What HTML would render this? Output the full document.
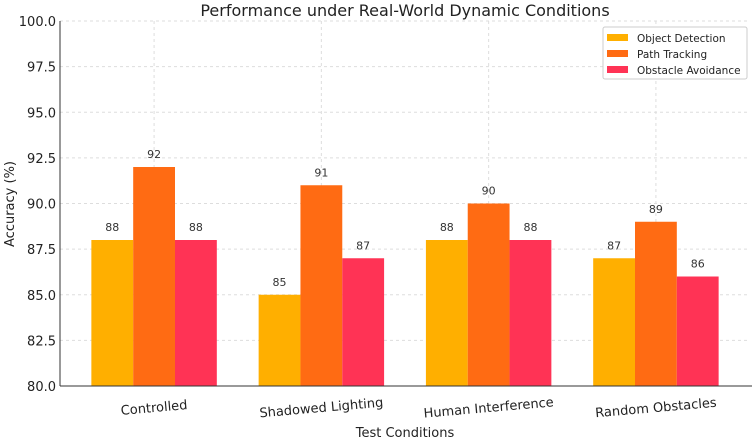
<!DOCTYPE html>
<html><head><meta charset="utf-8"><style>
body{margin:0;background:#fff;font-family:"DejaVu Sans","Liberation Sans",sans-serif}
svg text{font-family:"DejaVu Sans","Liberation Sans",sans-serif}
</style></head><body>
<svg id="c" width="754" height="441" xmlns="http://www.w3.org/2000/svg"></svg>
<script>
const categories=["Controlled","Shadowed Lighting","Human Interference","Random Obstacles"];
const seriesNames=["Object Detection","Path Tracking","Obstacle Avoidance"];
const objectDetection=[88,85,88,87];
const pathTracking=[92,91,90,89];
const obstacleAvoidance=[88,87,88,86];
const yTicks=[80,82.5,85,87.5,90,92.5,95,97.5,100];
const colors=["#FFAF00","#FF6B13","#FF3355"];
const series=[objectDetection,pathTracking,obstacleAvoidance];
const L=60,R=750,T=21,B=386,ymin=80,ymax=100,xmin=-0.5625,xmax=3.5625;
const X=v=>L+(v-xmin)/(xmax-xmin)*(R-L);
const Y=v=>B-(v-ymin)/(ymax-ymin)*(B-T);
const svg=document.getElementById('c');const NS="http://www.w3.org/2000/svg";
function el(t,a,txt){const e=document.createElementNS(NS,t);for(const k in a)e.setAttribute(k,a[k]);if(txt!=null)e.textContent=txt;svg.appendChild(e);return e;}
let e;
// grid
yTicks.forEach(v=>{e=el('line',{x1:L,x2:R,y1:Y(v),y2:Y(v),stroke:'#ddd','stroke-dasharray':'3,3'});


e=el('text',{x:L-4,y:Y(v)+5,'text-anchor':'end','font-size':13,fill:'#222'},v.toFixed(1));

});
categories.forEach((c,i)=>{e=el('line',{x1:X(i),x2:X(i),y1:T,y2:B,stroke:'#ddd','stroke-dasharray':'3,3'});

});
// bars
series.forEach((s,j)=>s.forEach((v,i)=>{const x0=X(i+(j-1.5)*0.25);const w=X(0.25)-X(0);
e=el('rect',{x:x0,y:Y(v),width:w,height:B-Y(v),fill:colors[j]});


e=el('text',{x:x0+w/2,y:Y(v)-9,'text-anchor':'middle','font-size':11,fill:'#333'},String(v));

}));
// axes
e=el('line',{x1:L,x2:L,y1:T,y2:B,stroke:'#333','stroke-width':1});


e=el('line',{x1:L,x2:R+2,y1:B,y2:B,stroke:'#333','stroke-width':1});


categories.forEach((c,i)=>{e=el('text',{x:X(i),y:B+26,'text-anchor':'middle','font-size':13,fill:'#222',transform:`rotate(-5 ${X(i)} ${B+22})`},c);

});
e=el('text',{x:405,y:16,'text-anchor':'middle','font-size':16,fill:'#222'},'Performance under Real-World Dynamic Conditions');


e=el('text',{x:405,y:437,'text-anchor':'middle','font-size':13,fill:'#222'},'Test Conditions');


e=el('text',{x:14,y:204,'text-anchor':'middle','font-size':13,fill:'#222',transform:'rotate(-90 14 204)'},'Accuracy (%)');


// legend
e=el('rect',{x:603,y:27,width:144,height:52,fill:'#fff',stroke:'#ccc',rx:2});


seriesNames.forEach((n,j)=>{const y=35+j*16;
e=el('rect',{x:607,y:y-1,width:21,height:7,fill:colors[j]});


e=el('text',{x:637,y:y+7,'font-size':10.5,fill:'#222'},n);

});
</script>
</body></html>
